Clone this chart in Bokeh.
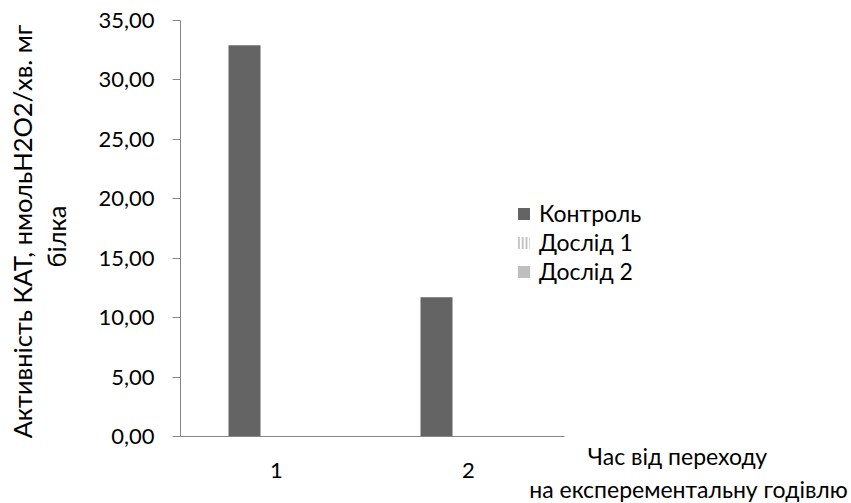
import math
from bokeh.plotting import figure
from bokeh.models import (Range1d, FixedTicker, CustomJSTickFormatter,
                          Legend, LegendItem, Label, ColumnDataSource)
from bokeh.transform import dodge
from bokeh.embed import file_html
from bokeh.resources import INLINE

# ---- data ----
categories = [1, 2]
category_labels = ["1", "2"]
control = [32.92, 11.72]
exp1 = [0.0, 0.0]
exp2 = [0.0, 0.0]
series_names = ["Контроль", "Дослід 1", "Дослід 2"]
y_ticks = [0, 5, 10, 15, 20, 25, 30, 35]
y_title = ["Активність КАТ, нмольН2О2/хв. мг", "білка"]
x_title = ["Час від переходу", "на експерементальну годівлю"]

FONT = "Lato"
FS = "22px"
FS_TEXT = "23px"
FS_YTITLE = "25.5px"
AXIS_COLOR = "#868686"

# ---- layout (pixels, figure coordinates) ----
W, H = 851, 503
AXIS_X = 180          # y axis position
AXIS_TOP = 20         # pixel of value 35
AXIS_BOTTOM = 436     # pixel of value 0
CAT_W = 192           # pixel width of one category
px_per_unit = (AXIS_BOTTOM - AXIS_TOP) / 35.0
y_max = 35.0 + AXIS_TOP / px_per_unit
y_min = -(H - AXIS_BOTTOM) / px_per_unit
x_min = 0.5 - AXIS_X / CAT_W
x_max = x_min + W / CAT_W

src = ColumnDataSource(dict(cat=categories, control=control, exp1=exp1, exp2=exp2))

p = figure(width=W, height=H, x_range=Range1d(x_min, x_max), y_range=Range1d(y_min, y_max),
           output_backend="svg", toolbar_location=None,
           min_border_left=0, min_border_right=0, min_border_top=0, min_border_bottom=0)

bw = 1.0 / 6.0
r1 = p.vbar(x=dodge("cat", -bw), top="control", width=bw, source=src,
            fill_color="#646464", line_color=None)
r2 = p.vbar(x=dodge("cat", 0.0), top="exp1", width=bw, source=src,
            fill_color="white", line_color=None, hatch_pattern="|", hatch_color="#a0a0a0",
            hatch_scale=3.8, hatch_weight=1.2)
r3 = p.vbar(x=dodge("cat", bw), top="exp2", width=bw, source=src,
            fill_color="#bfbfbf", line_color=None)

p.xgrid.visible = False
p.ygrid.visible = False
p.outline_line_color = None
p.background_fill_color = "white"
p.border_fill_color = "white"

# y axis drawn at the left edge of category 1
ya = p.yaxis[0]
ya.fixed_location = 0.5
ya.bounds = (0, 35)
ya.ticker = FixedTicker(ticks=y_ticks)
ya.formatter = CustomJSTickFormatter(code="return tick.toFixed(2).replace('.', ',');")
ya.axis_line_color = AXIS_COLOR
ya.major_tick_line_color = AXIS_COLOR
ya.major_tick_out = 8
ya.major_tick_in = 0
ya.minor_tick_line_color = None
ya.major_label_text_font = FONT
ya.major_label_text_font_size = FS
ya.major_label_text_color = "black"
ya.major_label_standoff = 18

# x axis drawn at y = 0
xa = p.xaxis[0]
xa.fixed_location = 0
xa.bounds = (0.5, 2.5)
xa.ticker = FixedTicker(ticks=categories)
xa.major_label_overrides = {c: l for c, l in zip(categories, category_labels)}
xa.axis_line_color = AXIS_COLOR
xa.major_tick_line_color = None
xa.minor_tick_line_color = None
xa.major_label_text_font = FONT
xa.major_label_text_font_size = FS
xa.major_label_text_color = "black"
xa.major_label_standoff = 20

def add_text(txt, cx, cy, size, angle=0.0):
    p.add_layout(Label(x=cx, y=H - cy, x_units="screen", y_units="screen", text=txt,
                       angle=angle, text_font=FONT, text_font_size=size, text_color="black",
                       text_align="center", text_baseline="middle"))

# y title (rotated, two lines)
add_text(y_title[0], 21, 231, FS_YTITLE, math.pi / 2)
add_text(y_title[1], 55, 236, FS_YTITLE, math.pi / 2)
# x title at the bottom right
add_text(x_title[0], 677, 455, FS_TEXT)
add_text(x_title[1], 688, 488, FS_TEXT)

legend = Legend(items=[LegendItem(label=series_names[0], renderers=[r1]),
                       LegendItem(label=series_names[1], renderers=[r2]),
                       LegendItem(label=series_names[2], renderers=[r3])],
                location=(516, 218), orientation="vertical",
                glyph_width=15, glyph_height=15, label_standoff=8, spacing=1,
                padding=0, margin=0, border_line_color=None, background_fill_alpha=0,
                label_text_font=FONT, label_text_font_size=FS_TEXT, label_text_color="black")
p.add_layout(legend, "center")

open("out.html", "w").write(file_html(p, INLINE))
